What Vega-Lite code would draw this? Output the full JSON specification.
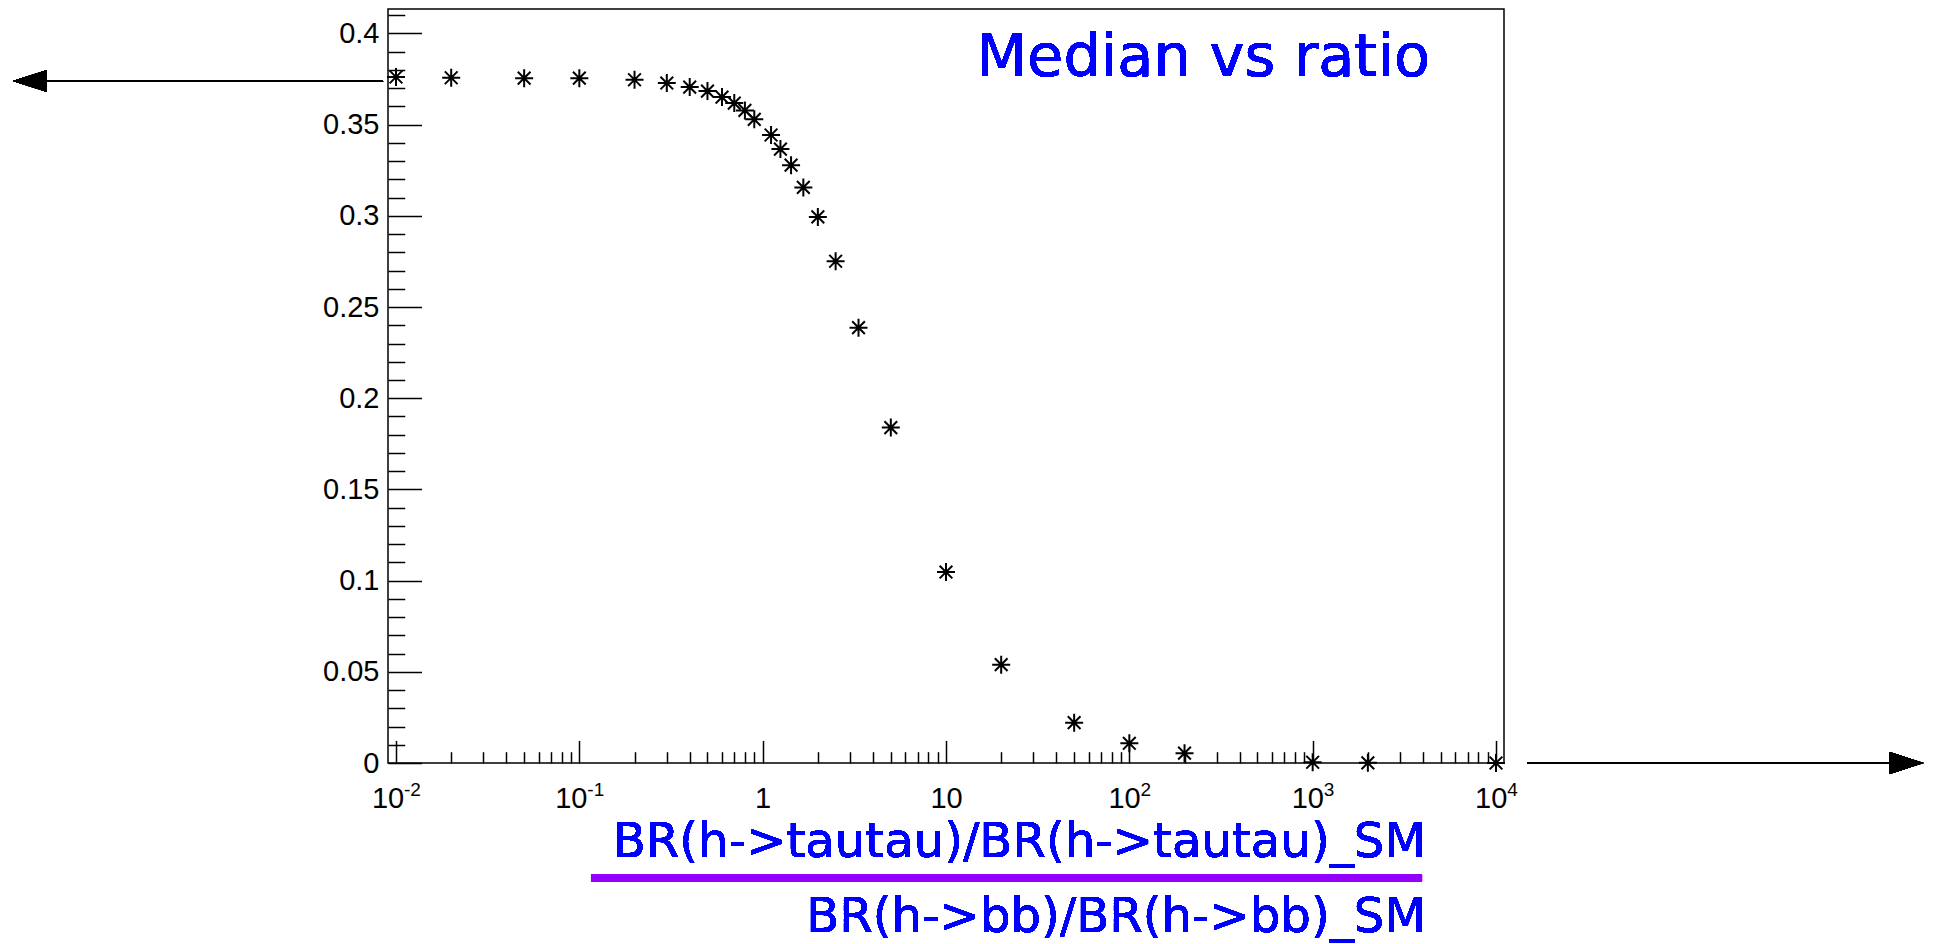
{
  "$schema": "https://vega.github.io/schema/vega-lite/v6.json",
  "autosize": {"type": "none"},
  "padding": {"left": 388, "top": 9, "right": 433, "bottom": 181},
  "width": 1116,
  "height": 754,
  "background": "white",
  "config": {"view": {"stroke": "black", "strokeWidth": 1.5}},
  "data": {"values": [
    {"ratio": 0.01, "median": 0.3761},
    {"ratio": 0.02, "median": 0.3757},
    {"ratio": 0.05, "median": 0.3755},
    {"ratio": 0.1, "median": 0.3755},
    {"ratio": 0.2, "median": 0.3746},
    {"ratio": 0.3, "median": 0.3728},
    {"ratio": 0.4, "median": 0.3706},
    {"ratio": 0.5, "median": 0.3684},
    {"ratio": 0.6, "median": 0.3651},
    {"ratio": 0.7, "median": 0.3618},
    {"ratio": 0.8, "median": 0.3578},
    {"ratio": 0.9, "median": 0.3529},
    {"ratio": 1.1111, "median": 0.3443},
    {"ratio": 1.25, "median": 0.3366},
    {"ratio": 1.4286, "median": 0.3278},
    {"ratio": 1.6667, "median": 0.3156},
    {"ratio": 2, "median": 0.2994},
    {"ratio": 2.5, "median": 0.2751},
    {"ratio": 3.3333, "median": 0.2387},
    {"ratio": 5, "median": 0.1839},
    {"ratio": 10, "median": 0.1047},
    {"ratio": 20, "median": 0.0539},
    {"ratio": 50, "median": 0.0221},
    {"ratio": 100, "median": 0.0108},
    {"ratio": 200, "median": 0.0054},
    {"ratio": 1000, "median": 0.0004},
    {"ratio": 2000, "median": 0.0001},
    {"ratio": 10000, "median": 0.0}
  ]},
  "resolve": {"axis": {"x": "independent", "y": "independent"}},
  "layer": [
    {
      "mark": {"type": "point", "shape": "M -1 0 L 1 0 M 0 -1 L 0 1 M -0.7071 -0.7071 L 0.7071 0.7071 M -0.7071 0.7071 L 0.7071 -0.7071", "size": 324, "filled": false, "stroke": "black", "strokeWidth": 2, "opacity": 1},
      "encoding": {
        "x": {"field": "ratio", "type": "quantitative",
          "scale": {"type": "log", "domain": [0.009044, 11057], "nice": false, "zero": false},
          "axis": {"orient": "bottom", "values": [0.01, 0.1, 1, 10, 100, 1000, 10000], "title": null, "grid": false, "domain": false,
            "tickSize": -22.6, "tickWidth": 1.5, "tickColor": "black",
            "labelFont": "Liberation Sans", "labelFontSize": 29, "labelColor": "black", "labelPadding": 66.6, "labelBaseline": "alphabetic", "labelAlign": "center",
            "labelFlush": false, "labelOverlap": false,
            "labelOffset": {"condition": [{"test": "datum.value < 0.5", "value": -8.5}, {"test": "datum.value > 50", "value": -5.3}], "value": 0},
            "labelExpr": "datum.value > 0.5 && datum.value < 5 ? '1' : '10'"}},
        "y": {"field": "median", "type": "quantitative",
          "scale": {"domain": [0, 0.4134], "nice": false, "zero": false},
          "axis": {"orient": "left", "values": [0, 0.05, 0.1, 0.15, 0.2, 0.25, 0.3, 0.35, 0.4], "title": null, "grid": false, "domain": false,
            "tickSize": -33.5, "tickWidth": 1.5, "tickColor": "black",
            "labelFont": "Liberation Sans", "labelFontSize": 29, "labelColor": "black", "labelPadding": 42.5, "labelAlign": "right", "labelBaseline": "middle",
            "labelFlush": false, "labelOverlap": false, "format": ".2~f"}}
      }
    },
    {
      "mark": {"type": "rule", "stroke": "black", "strokeWidth": 1.3},
      "encoding": {
        "x": {"datum": 0.000125, "type": "quantitative",
          "axis": {"orient": "bottom", "title": null, "grid": false, "domain": false, "labels": false,
            "tickSize": -11.3, "tickWidth": 1.5, "tickColor": "black",
            "values": [0.02,0.03,0.04,0.05,0.06,0.07,0.08,0.09,0.2,0.3,0.4,0.5,0.6,0.7,0.8,0.9,2,3,4,5,6,7,8,9,20,30,40,50,60,70,80,90,200,300,400,500,600,700,800,900,2000,3000,4000,5000,6000,7000,8000,9000]}},
        "x2": {"datum": 0.0085},
        "y": {"datum": 0.37386, "type": "quantitative",
          "axis": {"orient": "left", "title": null, "grid": false, "domain": false, "labels": false,
            "tickSize": -16.75, "tickWidth": 1.5, "tickColor": "black",
            "values": [0.01,0.02,0.03,0.04,0.06,0.07,0.08,0.09,0.11,0.12,0.13,0.14,0.16,0.17,0.18,0.19,0.21,0.22,0.23,0.24,0.26,0.27,0.28,0.29,0.31,0.32,0.33,0.34,0.36,0.37,0.38,0.39,0.41]}}
      }
    },
    {
      "mark": {"type": "point", "shape": "M -1 0 L 1 -0.647 L 1 0.647 Z", "size": 1156, "filled": true, "fill": "black", "opacity": 1},
      "encoding": {
        "x": {"datum": 0.00010084, "type": "quantitative",
          "axis": {"orient": "bottom", "values": [0.01, 0.1, 100, 1000, 10000], "title": null, "grid": false, "domain": false, "ticks": false,
            "labelFont": "Liberation Sans", "labelFontSize": 19, "labelColor": "black", "labelPadding": 32, "labelBaseline": "alphabetic", "labelAlign": "left",
            "labelFlush": false, "labelOverlap": false,
            "labelOffset": {"condition": {"test": "datum.value < 0.5", "value": 7.5}, "value": 10.7},
            "labelExpr": "datum.value < 0.05 ? '-2' : datum.value < 0.5 ? '-1' : datum.value < 500 ? '2' : datum.value < 5000 ? '3' : '4'"}},
        "y": {"datum": 0.37386, "type": "quantitative", "axis": null}
      }
    },
    {
      "mark": {"type": "rule", "stroke": "black", "strokeWidth": 1.3},
      "encoding": {
        "x": {"datum": 14757, "type": "quantitative", "axis": null},
        "x2": {"datum": 1409600},
        "y": {"datum": 0, "type": "quantitative", "axis": null}
      }
    },
    {
      "mark": {"type": "point", "shape": "M 1 0 L -1 -0.647 L -1 0.647 Z", "size": 1156, "filled": true, "fill": "black", "opacity": 1},
      "encoding": {
        "x": {"datum": 1734600, "type": "quantitative", "axis": null},
        "y": {"datum": 0, "type": "quantitative", "axis": null}
      }
    },
    {
      "mark": {"type": "rule", "stroke": "#9400ff", "strokeWidth": 7.5, "strokeCap": "butt"},
      "encoding": {
        "x": {"datum": 0.11578, "type": "quantitative", "axis": null},
        "x2": {"datum": 3948.5},
        "y": {"datum": -0.06301, "type": "quantitative", "axis": null}
      }
    },
    {
      "mark": {"type": "text", "text": "Median vs ratio", "font": "DejaVu Sans", "fontSize": 59, "fill": "#0000ff", "align": "right", "baseline": "alphabetic"},
      "encoding": {
        "x": {"datum": 4365, "type": "quantitative", "axis": null},
        "y": {"datum": 0.37644, "type": "quantitative", "axis": null}
      }
    },
    {
      "mark": {"type": "text", "text": "BR(h->tautau)/BR(h->tautau)_SM", "font": "DejaVu Sans", "fontSize": 48.2, "fill": "#0000ff", "align": "right", "baseline": "alphabetic"},
      "encoding": {
        "x": {"datum": 4152, "type": "quantitative", "axis": null},
        "y": {"datum": -0.051507, "type": "quantitative", "axis": null}
      }
    },
    {
      "mark": {"type": "text", "text": "BR(h->bb)/BR(h->bb)_SM", "font": "DejaVu Sans", "fontSize": 48.2, "fill": "#0000ff", "align": "right", "baseline": "alphabetic"},
      "encoding": {
        "x": {"datum": 4152, "type": "quantitative", "axis": null},
        "y": {"datum": -0.092603, "type": "quantitative", "axis": null}
      }
    }
  ]
}
